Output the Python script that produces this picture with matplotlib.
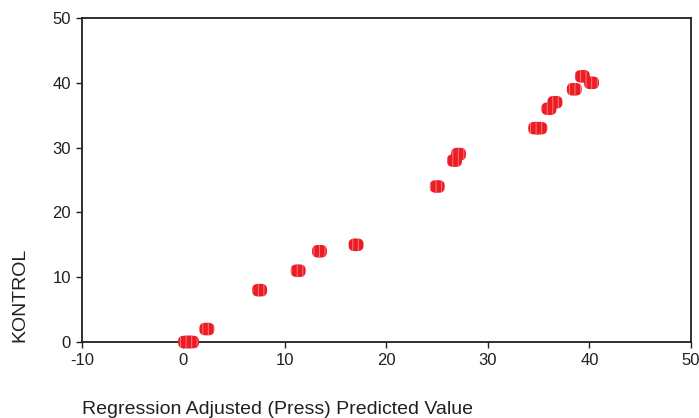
import matplotlib
matplotlib.use("Agg")
import matplotlib.pyplot as plt
import numpy as np
from matplotlib.path import Path

plt.rcParams['font.family'] = ['Liberation Sans', 'DejaVu Sans']
plt.rcParams['axes.unicode_minus'] = False

predicted = [0.2, 0.5, 0.8, 2.3, 7.5, 11.3, 13.4, 17.0, 25.0, 26.7, 27.1,
             34.7, 35.1, 36.0, 36.6, 38.5, 39.3, 40.2]
kontrol = [0, 0, 0, 2, 8, 11, 14, 15, 24, 28, 29,
           33, 33, 36, 37, 39, 41, 40]
x_ticks = [-10, 0, 10, 20, 30, 40, 50]
y_ticks = [0, 10, 20, 30, 40, 50]

# slightly flattened rounded marker
t = np.linspace(0, 2*np.pi, 60)
cx = np.sign(np.cos(t)) * np.abs(np.cos(t))**0.7 * 1.18
cy = np.sign(np.sin(t)) * np.abs(np.sin(t))**0.7
blob = Path(np.column_stack([cx, cy]), closed=True)

fig = plt.figure(figsize=(6.99, 4.18), dpi=100)
ax = fig.add_axes([82/699, (418-342)/418, (691-82)/699, (342-18)/418])

plt.rcParams['hatch.color'] = '#f77a7a'
plt.rcParams['hatch.linewidth'] = 0.7
ax.scatter(predicted, kontrol, s=115, marker=blob, facecolor='#ec1c24',
           edgecolor='#f77a7a', linewidth=0, hatch='|||', zorder=3, clip_on=False)

ax.set_xlim(-10, 50)
ax.set_ylim(0, 50)
ax.set_xticks(x_ticks)
ax.set_yticks(y_ticks)
for s in ax.spines.values():
    s.set_linewidth(1.3)
    s.set_color('#231f20')
ax.tick_params(direction='out', length=4, width=1.0, colors='#231f20',
               labelsize=12, pad=4)
ax.set_xlabel('Regression Adjusted (Press) Predicted Value', fontsize=14,
              loc='left', labelpad=24, color='#231f20')
ax.set_ylabel('KONTROL', fontsize=14, loc='bottom', labelpad=17, color='#231f20')

fig.savefig('out.png', dpi=100)
